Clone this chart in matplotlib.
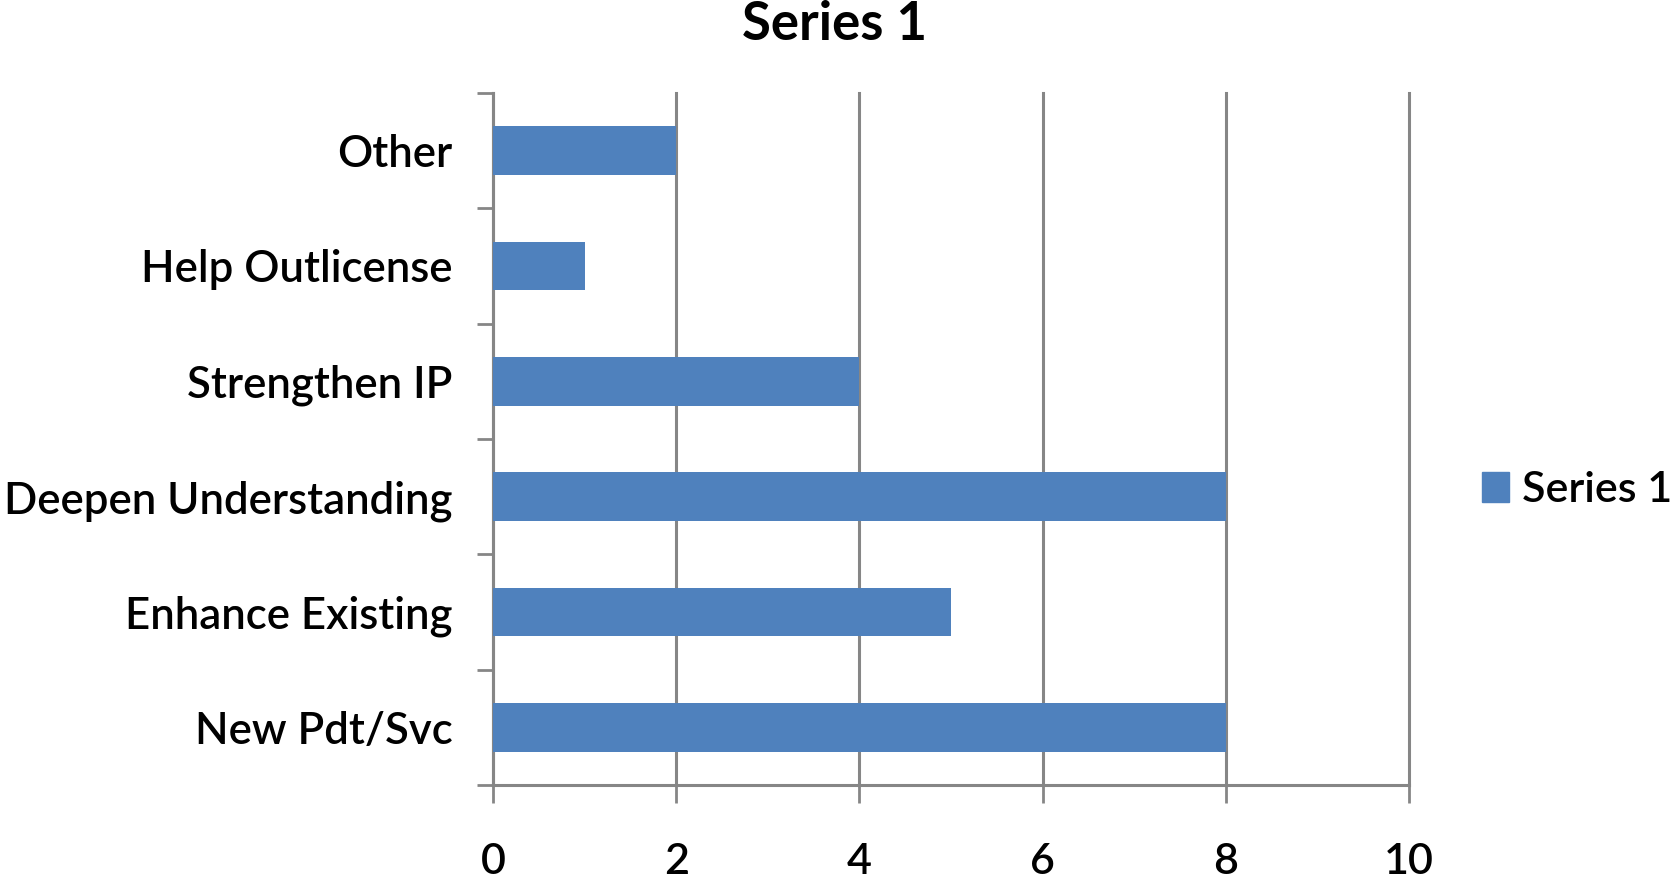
import matplotlib
matplotlib.use("Agg")
import matplotlib.pyplot as plt
from matplotlib.patches import Patch
import numpy as np

categories = ["New Pdt/Svc", "Enhance Existing", "Deepen Understanding",
              "Strengthen IP", "Help Outlicense", "Other"]
values = [8, 5, 8, 4, 1, 2]
xticks = [0, 2, 4, 6, 8, 10]
series_name = "Series 1"

plt.rcParams['font.family'] = ['Lato', 'DejaVu Sans']
grid_c = "#868686"
bar_c = "#4F81BD"

fig = plt.figure(figsize=(16.71, 8.86), dpi=100)
ax = fig.add_axes([493/1671, 1-785/886, (1409-493)/1671, (785-93)/886])

y = np.arange(len(categories))
ax.barh(y, values, height=0.42, color=bar_c, zorder=3)
ax.set_xlim(0, 10)
ax.set_ylim(-0.5, len(categories)-0.5)
ax.set_xticks(xticks)
ax.set_xticklabels([str(t) for t in xticks], fontweight='semibold')
ax.set_yticks(y)
ax.set_yticklabels(categories, fontweight='semibold')
ax.set_yticks(np.arange(-0.5, len(categories), 1.0), minor=True)
ax.tick_params(axis='y', which='major', length=0, pad=29, labelsize=31.5)
ax.tick_params(axis='y', which='minor', length=11.5, width=2, color=grid_c, direction='out')
ax.tick_params(axis='x', which='major', length=13, width=2, color=grid_c, direction='out', pad=28.5, labelsize=31)
ax.grid(axis='x', color=grid_c, linewidth=2.2, zorder=0)
for gl in ax.get_xgridlines():
    gl.set_clip_on(False)
for s in ['top', 'right']:
    ax.spines[s].set_visible(False)
for s in ['left', 'bottom']:
    ax.spines[s].set_color(grid_c)
    ax.spines[s].set_linewidth(2.2)

fig.text(834/1671, 1-25/886, series_name, ha='center', va='center', fontsize=38, fontweight='bold')
fig.legend(handles=[Patch(color=bar_c, label=series_name)], loc='center left',
           bbox_to_anchor=(1482/1671, 1-490/886), frameon=False,
           prop={'size': 31, 'weight': 'semibold'}, borderaxespad=0, borderpad=0,
           handlelength=0.63, handleheight=0.7, handletextpad=0.3)

fig.savefig("out.png", dpi=100)
